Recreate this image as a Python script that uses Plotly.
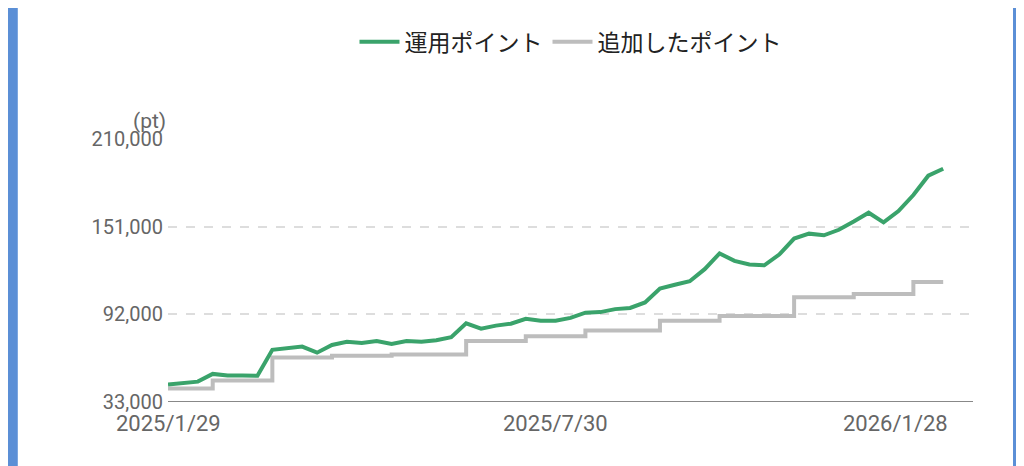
import plotly.graph_objects as go
import pandas as pd

dates = pd.date_range("2025-01-29", periods=53, freq="7D")
green = [44700, 45400, 46700, 51900, 50800, 50800, 50600, 68100, 69400, 70300,
         66200, 71400, 73500, 72700, 74100, 72000, 74100, 73500, 74600, 76600,
         85900, 82400, 84400, 85700, 89000, 87700, 87700, 89600, 93100, 93500,
         95500, 96300, 100000, 109400, 111900, 114300, 122400, 133000, 128000, 125600,
         125000, 132200, 143000, 146300, 145200, 148900, 154500, 160400, 153900, 161500,
         172300, 185300, 190000]
gray = [42100]*3 + [47500]*4 + [62900]*4 + [64200]*4 + [64900]*5 + [74000]*4 + \
       [77200]*4 + [81100]*5 + [87700]*4 + [90900]*5 + [103500]*4 + [105700]*4 + [113700]*3
yticks = [33000, 92000, 151000, 210000]
xlabels = ["2025/1/29", "2025/7/30", "2026/1/28"]

fig = go.Figure()
fig.add_trace(go.Scatter(x=dates, y=gray, name="追加したポイント", mode="lines",
                         line=dict(color="#bdbdbd", width=4, shape="hv")))
fig.add_trace(go.Scatter(x=dates, y=green, name="運用ポイント", mode="lines",
                         line=dict(color="#3aa36b", width=4)))

fig.update_layout(
    width=1024, height=466, margin=dict(l=160, r=59, t=122, b=72),
    plot_bgcolor="white", paper_bgcolor="white",
    font=dict(family="Noto Sans CJK JP, sans-serif"),
    showlegend=True,
    legend=dict(orientation="h", x=0.5, xanchor="center", y=1.37, yanchor="middle",
                traceorder="reversed", font=dict(size=23, color="#222"),
                itemwidth=40),
    xaxis=dict(range=[pd.Timestamp("2025-01-29"), pd.Timestamp("2026-02-11")],
               showgrid=False, showticklabels=False, zeroline=False,
               showline=False),
    yaxis=dict(range=[33000, 210000], tickvals=yticks,
               ticktext=[f"{v:,}" for v in yticks],
               tickfont=dict(size=20, color="#666", family="Roboto, sans-serif"),
               gridcolor="#dddddd", griddash="dash", gridwidth=1.5,
               zeroline=False, showline=False, ticks="", ticklabelstandoff=4),
)
fig.add_shape(type="line", xref="paper", yref="y", x0=0, x1=1, y0=33000, y1=33000,
              line=dict(color="#888", width=2))
anchors = ["center", "center", "right"]
for d, lab, a in zip([dates[0], dates[26], dates[52]], xlabels, anchors):
    fig.add_annotation(x=d if a == "center" else pd.Timestamp("2026-01-31"),
                       y=0, yref="paper", yshift=-36, text=lab, showarrow=False,
                       xanchor=a, font=dict(size=22, color="#666", family="Roboto, sans-serif"))
fig.add_annotation(x=-0.0, xref="paper", xanchor="right", y=1.12, yref="paper",
                   text="(pt)", showarrow=False,
                   font=dict(size=21, color="#666", family="Roboto, sans-serif"))
# blue side bars
fig.add_shape(type="rect", xref="paper", yref="paper", x0=-0.2, x1=-0.1866, y0=-0.3, y1=1.5,
              fillcolor="#5b8fd6", line_width=0, layer="below")
fig.add_shape(type="rect", xref="paper", yref="paper", x0=1.0497, x1=1.08, y0=-0.3, y1=1.5,
              fillcolor="#5b8fd6", line_width=0, layer="below")
fig.write_html("out.html")
